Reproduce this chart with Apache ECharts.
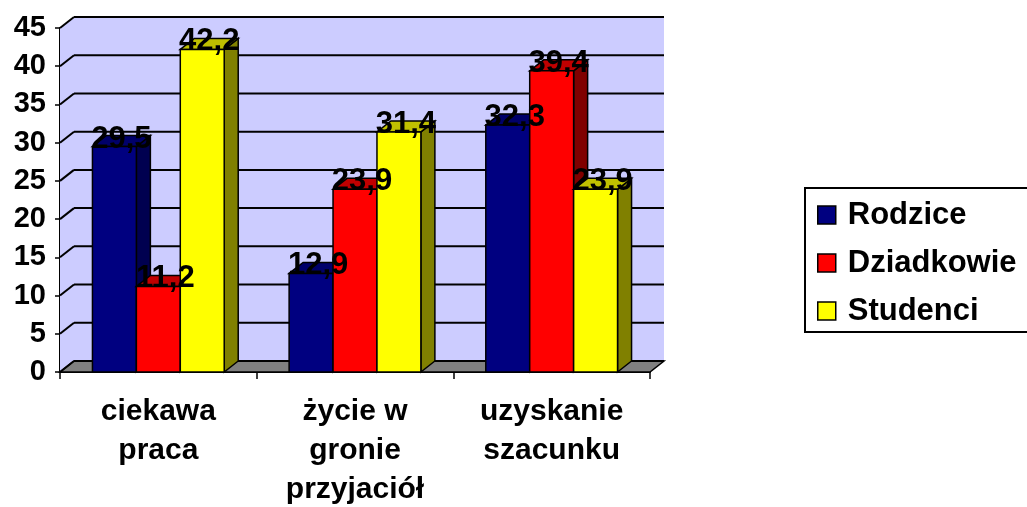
<!DOCTYPE html>
<html><head><meta charset="utf-8">
<script src="https://cdn.jsdelivr.net/npm/echarts@6/dist/echarts.min.js"></script>
<style>html,body{margin:0;padding:0;background:#fff}#c{width:1027px;height:507px}</style>
</head><body><div id="c"></div>
<script>
const categories = ['ciekawa\npraca', 'życie w\ngronie\nprzyjaciół', 'uzyskanie\nszacunku'];
const seriesNames = ['Rodzice', 'Dziadkowie', 'Studenci'];
const rodzice = [29.5, 12.9, 32.3];
const dziadkowie = [11.2, 23.9, 39.4];
const studenci = [42.2, 31.4, 23.9];
const yTicks = [0, 5, 10, 15, 20, 25, 30, 35, 40, 45];

const FONT = '"Liberation Sans", Arial, sans-serif';
const DX = 14, DY = -11, GAP = 0.33;
const colors = [
  {front: '#000080', top: '#00006a', side: '#000050'},
  {front: '#ff0000', top: '#c00000', side: '#800000'},
  {front: '#ffff00', top: '#c0c000', side: '#808000'}
];
const allData = [rodzice, dziadkowie, studenci];

function barRender(si) {
  return function (params, api) {
    const cat = api.value(0), v = api.value(1);
    const base = api.coord([cat, 0]);
    const top = api.coord([cat, v]);
    const band = api.size([1, 0])[0];
    const bw = band * (1 - GAP) / 3;
    const x0 = base[0] - 1.5 * bw + si * bw;
    const c = colors[si];
    const st = {stroke: '#000', lineWidth: 1.5};
    return {
      type: 'group',
      children: [
        {type: 'polygon', shape: {points: [[x0 + bw, top[1]], [x0 + bw + DX, top[1] + DY], [x0 + bw + DX, base[1] + DY], [x0 + bw, base[1]]]},
          style: Object.assign({fill: c.side}, st)},
        {type: 'polygon', shape: {points: [[x0, top[1]], [x0 + DX, top[1] + DY], [x0 + bw + DX, top[1] + DY], [x0 + bw, top[1]]]},
          style: Object.assign({fill: c.top}, st)},
        {type: 'rect', shape: {x: x0, y: top[1], width: bw, height: base[1] - top[1]},
          style: Object.assign({fill: c.front}, st)},
        {type: 'text', z2: 100, x: x0 + bw / 2 + 7, y: top[1] + 8,
          style: {text: String(v).replace('.', ','), fill: '#000', font: 'bold 31px ' + FONT, textAlign: 'center', textVerticalAlign: 'bottom'}}
      ]
    };
  };
}

function wallRender(params, api) {
  const cs = params.coordSys;
  const L = cs.x, R = cs.x + cs.width;
  const t = api.value(0);
  const y0 = api.coord([0, 0])[1];
  const yMax = api.coord([0, yTicks[yTicks.length - 1]])[1];
  const yt = api.coord([0, t])[1];
  const children = [];
  if (params.dataIndex === 0) {
    children.push({type: 'rect', z2: 0, shape: {x: L + DX, y: yMax + DY, width: R - L, height: y0 - yMax}, style: {fill: '#ccccff'}});
    children.push({type: 'polygon', z2: 0, shape: {points: [[L, y0], [L, yMax], [L + DX, yMax + DY], [L + DX, y0 + DY]]}, style: {fill: '#ccccff'}});
    children.push({type: 'polygon', z2: 1, shape: {points: [[L, y0], [R, y0], [R + DX, y0 + DY], [L + DX, y0 + DY]]}, style: {fill: '#808080', stroke: '#000', lineWidth: 1.5}});
  }
  children.push({type: 'line', z2: 2, shape: {x1: L + DX, y1: yt + DY, x2: R + DX, y2: yt + DY}, style: {stroke: '#000', lineWidth: 2}});
  children.push({type: 'line', z2: 2, shape: {x1: L, y1: yt, x2: L + DX, y2: yt + DY}, style: {stroke: '#000', lineWidth: 2}});
  return {type: 'group', children: children};
}

const chart = echarts.init(document.getElementById('c'), null, {renderer: 'canvas'});
const series = [{
  type: 'custom', name: '_walls', z: 1, silent: true,
  renderItem: wallRender,
  data: yTicks.map(t => [t])
}];
seriesNames.forEach((n, si) => {
  series.push({
    type: 'custom', name: n, z: 2,
    itemStyle: {color: colors[si].front},
    renderItem: barRender(si),
    encode: {x: 0, y: 1},
    data: allData[si].map((v, i) => [i, v])
  });
});

chart.setOption({
  animation: false,
  backgroundColor: '#fff',
  grid: {left: 60, right: 377, top: 28, bottom: 135, containLabel: false, outerBoundsMode: 'none'},
  xAxis: {
    type: 'category', data: categories,
    axisLine: {show: true, lineStyle: {color: '#000', width: 2}},
    axisTick: {show: true, length: 7, lineStyle: {color: '#000', width: 1.5}},
    axisLabel: {fontFamily: FONT, fontWeight: 'bold', fontSize: 30, color: '#000', lineHeight: 39, margin: 20, interval: 0},
    splitLine: {show: false}
  },
  yAxis: {
    type: 'value', min: 0, max: 45, interval: 5,
    axisLine: {show: true, lineStyle: {color: '#000', width: 2}},
    axisTick: {show: true, length: 5, lineStyle: {color: '#000', width: 1.5}},
    axisLabel: {fontFamily: FONT, fontWeight: 'bold', fontSize: 29, color: '#000', margin: 14},
    splitLine: {show: false}
  },
  legend: {
    orient: 'vertical', left: 805, top: 188,
    padding: [9, 30, 3, 12],
    borderColor: '#000', borderWidth: 2,
    itemWidth: 18, itemHeight: 18, itemGap: 12,
    icon: 'rect',
    textStyle: {fontFamily: FONT, fontWeight: 'bold', fontSize: 31, color: '#000', lineHeight: 36, padding: [0, 0, 0, 7]},
    data: seriesNames.map((n, si) => ({name: n, itemStyle: {color: colors[si].front, borderColor: '#000', borderWidth: 1.5}}))
  },
  series: series
});
</script></body></html>
